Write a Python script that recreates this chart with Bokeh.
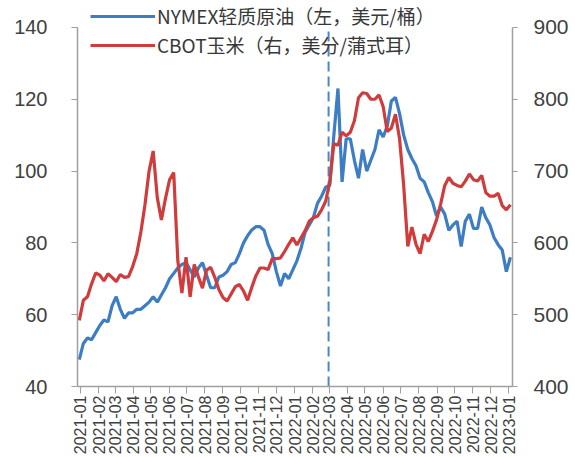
import math
import pandas as pd
from bokeh.plotting import figure
from bokeh.models import (Range1d, LinearAxis, FixedTicker, Legend,
                          LegendItem, ColumnDataSource)
from bokeh.embed import file_html
from bokeh.resources import INLINE

# ---------------- data (weekly) ----------------
start_date = "2020-12-30"
wti = [47.5, 52, 53.5, 53, 55, 57, 58.5, 58, 62.5, 65,
       61.5, 59, 60.5, 60.5, 61.5, 61.5, 62.5, 63.5, 65, 63.5,
       65.5, 67.5, 70, 71.5, 73, 74, 74.5, 72.5, 70.5, 73,
       74.5, 71, 67.5, 67.5, 70.5, 71, 72, 74, 74.5, 77,
       80, 82, 83.6, 84.5, 84.5, 83.5, 79.5, 77, 72, 68,
       71.5, 70, 72.5, 75, 78.5, 83, 85, 87, 91, 93,
       95.5, 96, 110, 123, 97, 109, 109, 103, 98, 106,
       100, 103, 106, 111.5, 109.5, 112.5, 119.5, 120.5, 116, 110,
       106, 103.5, 101.5, 98, 97, 94, 91.5, 87.5, 90, 88,
       83.5, 85, 86, 79, 86, 88, 84, 84, 90, 87,
       85, 81.5, 79.5, 78, 72, 76]
corn = [492, 520, 525, 543, 558, 555, 547, 557, 552, 546,
        556, 552, 553, 567, 585, 615, 653, 700, 728, 663,
        632, 662, 688, 698, 575, 530, 580, 525, 570, 553,
        537, 562, 566, 552, 535, 524, 519, 529, 539, 542,
        533, 520, 538, 554, 565, 565, 563, 578, 578, 579,
        588, 598, 607, 597, 607, 617, 630, 635, 637, 646,
        658, 685, 738, 736, 754, 749, 754, 770, 802, 809,
        808, 800, 800, 806, 790, 755, 760, 779, 745, 680,
        595, 622, 598, 585, 612, 602, 616, 632, 654, 680,
        691, 683, 680, 678, 686, 696, 688, 686, 694, 670,
        665, 665, 669, 652, 646, 653]
tick_labels = ["2021-01", "2021-02", "2021-03", "2021-04", "2021-05", "2021-06",
               "2021-07", "2021-08", "2021-09", "2021-10", "2021-11", "2021-12",
               "2022-01", "2022-02", "2022-03", "2022-04", "2022-05", "2022-06",
               "2022-07", "2022-08", "2022-09", "2022-10", "2022-11", "2022-12",
               "2023-01"]
left_ticks = [40, 60, 80, 100, 120, 140]
right_ticks = [400, 500, 600, 700, 800, 900]
event_date = "2022-02-28"
label_wti = "NYMEX轻质原油（左，美元/桶）"
label_corn = "CBOT玉米（右，美分/蒲式耳）"

BLUE = "#3C7DC4"
RED = "#D03C3C"
AXIS = "#9f9f9f"
TXT = "#404040"

dates = pd.date_range(start_date, periods=len(wti), freq="7D")
src = ColumnDataSource(dict(date=dates, wti=wti, corn=corn))

def ms(s):
    return int(pd.Timestamp(s).value // 10**6)

tick_ms = [ms(t + "-01") for t in tick_labels]

# frame reaches the top of the canvas so that the legend fits inside it;
# the axes themselves are bounded to their tick extent
p = figure(width=575, height=457, x_axis_type="datetime",
           output_backend="svg", toolbar_location=None,
           x_range=Range1d(pd.Timestamp("2020-12-27"), pd.Timestamp("2023-01-07 12:00")),
           y_range=Range1d(40, 147.5),
           min_border_left=77, min_border_right=63,
           min_border_top=0, min_border_bottom=70)
p.outline_line_color = None
p.xgrid.grid_line_color = None
p.ygrid.grid_line_color = None
p.background_fill_color = "white"
p.border_fill_color = "white"
p.extra_y_ranges = {"corn": Range1d(400, 937.5)}

# event marker (dashed vertical line spanning the axis extent)
ev = pd.Timestamp(event_date)
p.segment(x0=[ev], y0=[left_ticks[0]], x1=[ev], y1=[left_ticks[-1]],
          line_color="#4A86C8", line_width=2, line_dash="10 5", level="underlay")

r_wti = p.line("date", "wti", source=src, color=BLUE, line_width=3.2)
r_corn = p.line("date", "corn", source=src, color=RED, line_width=3.2, y_range_name="corn")

# x axis
xa = p.xaxis[0]
xa.ticker = FixedTicker(ticks=tick_ms)
xa.major_label_overrides = {t: lab for t, lab in zip(tick_ms, tick_labels)}
xa.major_label_orientation = math.pi / 2
xa.major_label_text_font = "Liberation Sans"
xa.major_label_text_font_size = "16px"
xa.major_label_text_color = TXT
xa.major_label_standoff = 2
xa.axis_line_color = AXIS
xa.axis_line_width = 1.5
xa.major_tick_line_color = AXIS
xa.major_tick_out = 7
xa.major_tick_in = 0
xa.minor_tick_line_color = None

# left axis
ya = p.yaxis[0]
ya.ticker = FixedTicker(ticks=left_ticks)
ya.bounds = (left_ticks[0], left_ticks[-1])
ya.major_label_text_font = "Liberation Sans"
ya.major_label_text_font_size = "20px"
ya.major_label_text_color = TXT
ya.major_label_standoff = 24
ya.axis_line_color = AXIS
ya.axis_line_width = 1.5
ya.major_tick_line_color = AXIS
ya.major_tick_out = 6
ya.major_tick_in = 0
ya.minor_tick_line_color = None

# right axis
ra = LinearAxis(y_range_name="corn", ticker=FixedTicker(ticks=right_ticks),
                bounds=(right_ticks[0], right_ticks[-1]))
ra.major_label_text_font = "Liberation Sans"
ra.major_label_text_font_size = "21px"
ra.major_label_text_color = TXT
ra.major_label_standoff = 16
ra.axis_line_color = AXIS
ra.axis_line_width = 1.5
ra.major_tick_line_color = AXIS
ra.major_tick_out = 5
ra.major_tick_in = 0
ra.minor_tick_line_color = None
p.add_layout(ra, "right")

def make_legend(label, renderer, loc):
    lg = Legend(items=[LegendItem(label=label, renderers=[renderer])], location=loc)
    lg.label_text_font = "Noto Sans CJK SC"
    lg.label_text_font_size = "19px"
    lg.label_text_color = "#383838"
    lg.glyph_width = 65
    lg.glyph_height = 20
    lg.label_standoff = 2
    lg.spacing = 0
    lg.padding = 0
    lg.margin = 0
    lg.background_fill_alpha = 0
    lg.border_line_alpha = 0
    return lg

p.add_layout(make_legend(label_wti, r_wti, (13, 357)))
p.add_layout(make_legend(label_corn, r_corn, (13, 328)))

open("out.html", "w").write(file_html(p, INLINE))
